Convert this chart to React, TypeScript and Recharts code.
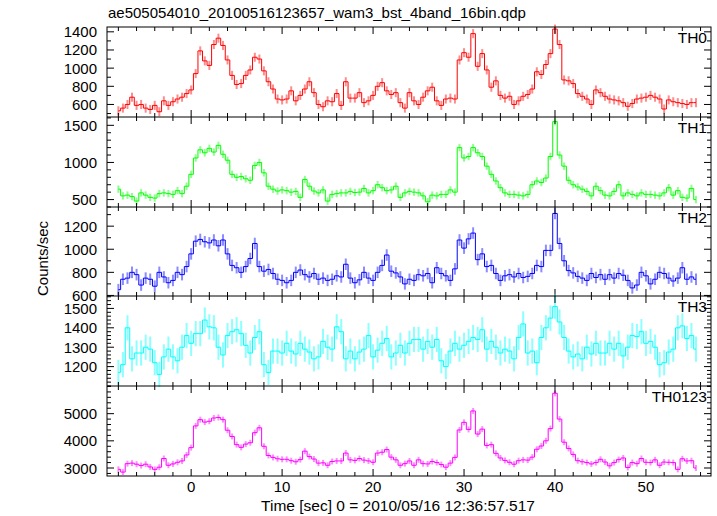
import React from 'react';
import { LineChart, Line, XAxis, YAxis, ErrorBar } from 'recharts';

// ---------- data ----------
const times = [
  -8, -7.5, -7, -6.5, -6, -5.5, -5, -4.5, -4, -3.5, -3, -2.5, -2, -1.5, -1, -0.5,
  0, 0.5, 1, 1.5, 2, 2.5, 3, 3.5, 4, 4.5, 5, 5.5, 6, 6.5, 7, 7.5,
  8, 8.5, 9, 9.5, 10, 10.5, 11, 11.5, 12, 12.5, 13, 13.5, 14, 14.5, 15, 15.5,
  16, 16.5, 17, 17.5, 18, 18.5, 19, 19.5, 20, 20.5, 21, 21.5, 22, 22.5, 23, 23.5,
  24, 24.5, 25, 25.5, 26, 26.5, 27, 27.5, 28, 28.5, 29, 29.5, 30, 30.5, 31, 31.5,
  32, 32.5, 33, 33.5, 34, 34.5, 35, 35.5, 36, 36.5, 37, 37.5, 38, 38.5, 39, 39.5,
  40, 40.5, 41, 41.5, 42, 42.5, 43, 43.5, 44, 44.5, 45, 45.5, 46, 46.5, 47, 47.5,
  48, 48.5, 49, 49.5, 50, 50.5, 51, 51.5, 52, 52.5, 53, 53.5, 54, 54.5, 55, 55.5,
];

const th0 = [
  530, 560, 600, 680, 590, 600, 560, 545, 590, 520, 640, 590, 630, 660, 680, 720,
  760, 940, 1190, 1080, 1030, 1260, 1330, 1250, 1090, 920, 820, 830, 920, 980, 1120, 1100,
  970, 850, 770, 660, 650, 660, 750, 640, 700, 770, 850, 730, 600, 575, 640, 630,
  720, 590, 850, 670, 670, 730, 620, 640, 700, 800, 840, 750, 710, 730, 620, 560,
  730, 640, 600, 680, 750, 790, 640, 590, 660, 670, 660, 1090, 1170, 1120, 1380, 1020,
  1160, 980, 790, 860, 700, 670, 690, 600, 640, 690, 710, 770, 960, 930, 1040, 1160,
  1430, 1260, 870, 860, 830, 720, 690, 660, 600, 760, 730, 690, 660, 650, 640, 620,
  580, 610, 660, 670, 680, 700, 680, 660, 550, 650, 630, 620, 610, 600, 620, 620,
];

const th1 = [
  640, 550, 560, 540, 480, 590, 560, 530, 520, 580, 590, 580, 570, 620, 580, 680,
  840, 1060, 1170, 1130, 1190, 1140, 1230, 1110, 1030, 840, 800, 810, 780, 760, 960, 1000,
  860, 680, 640, 615, 630, 620, 600, 610, 530, 770, 680, 615, 590, 630, 480, 570,
  580, 590, 590, 610, 595, 600, 650, 590, 620, 700, 660, 620, 630, 680, 530, 590,
  610, 600, 590, 550, 470, 560, 550, 570, 570, 630, 600, 1200, 1060, 1080, 1200, 1130,
  1080, 950, 840, 750, 660, 590, 570, 570, 560, 550, 570, 700, 750, 730, 790, 1080,
  1550, 1100, 950, 760, 700, 670, 640, 610, 550, 680, 620, 560, 550, 610, 700, 550,
  590, 570, 550, 590, 570, 570, 560, 550, 590, 660, 560, 620, 530, 520, 650, 500,
];

const th2 = [
  650, 740, 750, 800, 780, 690, 750, 740, 680, 800, 760, 710, 730, 800, 780, 850,
  960, 1070, 1085, 1065, 1055, 1080, 1030, 1080, 960, 860, 840, 800, 850, 920, 1050, 850,
  810, 825, 790, 740, 730, 710, 730, 800, 820, 780, 760, 790, 740, 750, 730, 740,
  770, 760, 870, 750, 710, 735, 800, 750, 730, 800, 860, 950, 810, 795, 760, 700,
  740, 730, 780, 770, 790, 710, 840, 790, 770, 730, 830, 1080, 1010, 1090, 1140, 910,
  960, 850, 860, 790, 730, 770, 780, 760, 790, 755, 765, 790, 860, 850, 990, 990,
  1310, 1050, 900, 815, 795, 765, 750, 730, 790, 755, 780, 740, 780, 750, 790, 775,
  730, 665, 690, 800, 770, 700, 740, 800, 790, 750, 725, 750, 840, 740, 760, 740,
];

const th3 = [
  1170, 1210, 1400, 1240, 1270, 1270, 1300, 1290, 1220, 1160, 1250, 1290, 1250, 1230, 1300, 1360,
  1320, 1370, 1370, 1440, 1405, 1400, 1300, 1260, 1360, 1380, 1390, 1370, 1310, 1270, 1350, 1380,
  1210, 1170, 1280, 1280, 1270, 1320, 1280, 1265, 1320, 1290, 1275, 1240, 1250, 1330, 1300, 1290,
  1405, 1380, 1240, 1280, 1240, 1275, 1290, 1360, 1250, 1285, 1320, 1345, 1250, 1270, 1310, 1270,
  1320, 1340, 1340, 1290, 1330, 1300, 1340, 1230, 1200, 1280, 1320, 1290, 1310, 1330, 1350, 1340,
  1390, 1290, 1330, 1300, 1270, 1290, 1280, 1240, 1350, 1420, 1270, 1280, 1220, 1350, 1400, 1450,
  1510, 1430, 1350, 1280, 1250, 1265, 1240, 1300, 1265, 1320, 1270, 1270, 1320, 1290, 1320, 1255,
  1300, 1360, 1355, 1380, 1320, 1330, 1300, 1210, 1220, 1275, 1290, 1400, 1410, 1345, 1360, 1290,
];

const th0123 = [
  2950, 2850, 3160, 3180, 3140, 3090, 3140, 3040, 2950, 3030, 3350, 3100, 3150, 3210, 3260, 3480,
  3750, 4550, 4780, 4690, 4720, 4840, 4860, 4780, 4390, 4160, 3860, 3760, 3880, 3930, 4300, 4480,
  3800, 3460, 3390, 3340, 3320, 3320, 3270, 3230, 3310, 3620, 3420, 3330, 3180, 3190, 3100, 3240,
  3260, 3260, 3550, 3300, 3280, 3350, 3290, 3260, 3210, 3550, 3580, 3680, 3400, 3300, 3100, 3160,
  3260, 3100, 3300, 3160, 3150, 3240, 3200, 3130, 3030, 3180, 3390, 4400, 4680, 4420, 5100, 4250,
  4430, 3830, 3860, 3540, 3370, 3280, 3210, 3140, 3270, 3300, 3290, 3400, 3690, 3810, 4000, 4450,
  5750, 4800, 3950, 3720, 3500, 3270, 3230, 3200, 3150, 3200, 3320, 3220, 3080, 3200, 3310, 3370,
  3020, 3200, 3160, 3350, 3210, 3200, 3300, 3100, 3220, 3210, 3200, 2950, 3340, 3260, 3270, 3000,
];

const channelNames = ['TH0', 'TH1', 'TH2', 'TH3', 'TH0123'];
const channelValues = [th0, th1, th2, th3, th0123];
const channelErrors = [50, 50, 50, 65, 110];

const yDomains = [
  [462, 1453],
  [400, 1612],
  [595, 1366],
  [1100, 1564],
  [2706, 6018],
];
const yMajorTicks = [
  [600, 800, 1000, 1200, 1400],
  [500, 1000, 1500],
  [600, 800, 1000, 1200],
  [1200, 1300, 1400, 1500],
  [3000, 4000, 5000],
];
const yAllTicks = [
  [500, 600, 700, 800, 900, 1000, 1100, 1200, 1300, 1400],
  [400, 500, 600, 700, 800, 900, 1000, 1100, 1200, 1300, 1400, 1500, 1600],
  [600, 700, 800, 900, 1000, 1100, 1200, 1300],
  [1100, 1120, 1140, 1160, 1180, 1200, 1220, 1240, 1260, 1280, 1300, 1320, 1340, 1360, 1380, 1400, 1420, 1440, 1460, 1480, 1500, 1520, 1540, 1560],
  [2800, 3000, 3200, 3400, 3600, 3800, 4000, 4200, 4400, 4600, 4800, 5000, 5200, 5400, 5600, 5800, 6000],
];

const xDomain = [-9.25, 57.15];
const xMajorTicks = [0, 10, 20, 30, 40, 50];
const xAllTicks = [-8, -6, -4, -2, 0, 2, 4, 6, 8, 10, 12, 14, 16, 18, 20, 22, 24, 26, 28, 30, 32, 34, 36, 38, 40, 42, 44, 46, 48, 50, 52, 54, 56];

const titleText = 'ae505054010_20100516123657_wam3_bst_4band_16bin.qdp';
const xTitle = 'Time [sec] 0 = 2010/05/16 12:36:57.517';
const yTitle = 'Counts/sec';

// ---------- styling / layout ----------
const COLORS = ['#ff0000', '#00ff00', '#0000ff', '#00ffff', '#ff00ff'];
const W = 717;
const H = 516;
const PLOT_LEFT = 107;
const PLOT_RIGHT = 711;
const PANEL_EDGES = [27, 117, 207, 296, 386, 476];
const FONT = '"Liberation Sans", Arial, Helvetica, sans-serif';
const PAD_TOP = 12;

const makeXTick = (plotTop: number, plotBottom: number, showLabels: boolean) => (props: any) => {
  const { x, payload } = props;
  const v = payload.value;
  const major = xMajorTicks.includes(v);
  const len = major ? 7 : 4;
  return (
    <g>
      <line x1={x} x2={x} y1={plotBottom} y2={plotBottom - len} stroke="#000" strokeWidth={1} />
      <line x1={x} x2={x} y1={plotTop} y2={plotTop + len} stroke="#000" strokeWidth={1} />
      {showLabels && major ? (
        <text x={x} y={plotBottom + 16} textAnchor="middle" fontSize={15} fontFamily={FONT} fill="#000">
          {v}
        </text>
      ) : null}
    </g>
  );
};

const makeYTick = (majors: number[]) => (props: any) => {
  const { y, payload } = props;
  const v = payload.value;
  const major = majors.includes(v);
  const len = major ? 7 : 4;
  return (
    <g>
      <line x1={PLOT_LEFT} x2={PLOT_LEFT + len} y1={y} y2={y} stroke="#000" strokeWidth={1} />
      <line x1={PLOT_RIGHT} x2={PLOT_RIGHT - len} y1={y} y2={y} stroke="#000" strokeWidth={1} />
      {major ? (
        <text x={97} y={y + 5.5} textAnchor="end" fontSize={15} fontFamily={FONT} fill="#000">
          {v}
        </text>
      ) : null}
    </g>
  );
};

function Panel({ idx }: { idx: number }) {
  const top = PANEL_EDGES[idx];
  const bottom = PANEL_EDGES[idx + 1];
  const ph = bottom - top;
  const last = idx === channelNames.length - 1;
  const padBottom = last ? 30 : 12;
  const chartH = PAD_TOP + ph + padBottom;
  const values = channelValues[idx];
  const data = times.map((t, i) => ({ t, v: values[i], e: channelErrors[idx] }));
  const plotTop = PAD_TOP;
  const plotBottom = PAD_TOP + ph;
  return (
    <div style={{ position: 'absolute', left: 0, top: top - PAD_TOP, width: W, height: chartH }}>
      <LineChart width={W} height={chartH} data={data} margin={{ top: PAD_TOP, right: W - PLOT_RIGHT, bottom: 0, left: 0 }}>
        <XAxis
          type="number"
          dataKey="t"
          domain={xDomain}
          allowDataOverflow
          ticks={xAllTicks}
          interval={0}
          tickLine={false}
          axisLine={false}
          height={padBottom}
          tick={makeXTick(plotTop, plotBottom, last)}
        />
        <YAxis
          type="number"
          domain={yDomains[idx]}
          allowDataOverflow
          ticks={yAllTicks[idx]}
          interval={0}
          tickLine={false}
          axisLine={false}
          width={PLOT_LEFT}
          tick={makeYTick(yMajorTicks[idx])}
        />
        <Line
          type="step"
          dataKey="v"
          stroke={COLORS[idx]}
          strokeWidth={1}
          dot={false}
          activeDot={false}
          isAnimationActive={false}
        >
          <ErrorBar dataKey="e" width={0} stroke={COLORS[idx]} strokeOpacity={0.45} strokeWidth={2} direction="y" isAnimationActive={false} />
        </Line>
      </LineChart>
    </div>
  );
}

export default function App() {
  return (
    <div style={{ position: 'absolute', left: 0, top: 0, width: W, height: H, background: '#fff', overflow: 'hidden' }}>
      {channelNames.map((_, i) => (
        <Panel key={i} idx={i} />
      ))}
      <svg width={W} height={H} style={{ position: 'absolute', left: 0, top: 0, pointerEvents: 'none' }}>
        <rect
          x={PLOT_LEFT}
          y={PANEL_EDGES[0]}
          width={PLOT_RIGHT - PLOT_LEFT}
          height={PANEL_EDGES[PANEL_EDGES.length - 1] - PANEL_EDGES[0]}
          fill="none"
          stroke="#000"
          strokeWidth={1}
        />
        {PANEL_EDGES.slice(1, -1).map((y, i) => (
          <line key={i} x1={PLOT_LEFT} x2={PLOT_RIGHT} y1={y} y2={y} stroke="#000" strokeWidth={1} />
        ))}
        <text x={108} y={18} fontSize={15} fontFamily={FONT} fill="#000">
          {titleText}
        </text>
        {channelNames.map((name, i) => (
          <text key={name} x={707} y={PANEL_EDGES[i] + 16} textAnchor="end" fontSize={15.5} fontFamily={FONT} fill="#000">
            {name}
          </text>
        ))}
        <text
          transform="translate(47.5,258.5) rotate(-90)"
          textAnchor="middle"
          fontSize={15}
          fontFamily={FONT}
          fill="#000"
        >
          {yTitle}
        </text>
        <text x={398} y={511} textAnchor="middle" fontSize={15.5} fontFamily={FONT} fill="#000">
          {xTitle}
        </text>
      </svg>
    </div>
  );
}
